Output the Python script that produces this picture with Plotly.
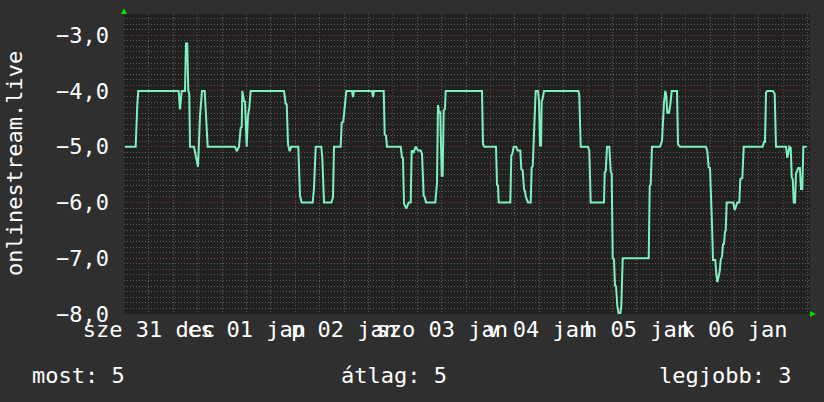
import pandas as pd
import plotly.graph_objects as go

# hours since 2014-12-31 00:00 and values
hours = [6.12, 8.75, 9.15, 9.39, 19.33, 19.65, 20.07, 20.88, 21.12, 21.44, 21.69, 21.93, 22.11,
         23.09, 23.58, 24.07, 24.57, 25.06, 25.72, 26.04, 26.46, 33.17, 33.59, 34.16, 34.57,
         34.82, 34.97, 35.38, 35.63, 36.05, 36.37, 36.69, 37.03, 45.22, 45.64, 45.89, 46.21,
         46.62, 47.02, 48.74, 49.16, 49.57, 52.28, 52.60, 53.02, 54.39, 54.64, 55.06, 56.85,
         57.27, 57.52, 59.16, 59.41, 59.80, 60.15, 60.54, 61.94, 62.19, 62.43, 66.86, 67.11,
         67.35, 69.74, 69.98, 70.30, 70.55, 73.92, 74.24, 74.48, 74.73, 75.30, 75.88, 76.38,
         76.62, 77.11, 77.61, 78.17, 78.84, 79.16, 79.57, 79.82, 80.14, 82.43, 82.67, 82.84,
         83.09, 83.34, 83.65, 84.00, 84.24, 84.49, 84.81, 84.98, 93.91, 94.15, 94.47, 97.35,
         97.60, 97.84, 98.02, 100.87, 101.11, 101.36, 101.70, 102.27, 102.69, 103.33, 103.57,
         103.92, 104.24, 104.48, 104.73, 105.22, 105.88, 106.13, 106.38, 106.70, 106.87, 107.11,
         107.68, 107.93, 108.17, 108.42, 108.59, 108.83, 109.16, 117.59, 117.83, 118.18, 119.97,
         120.29, 120.64, 123.91, 124.08, 124.33, 124.65, 125.21, 125.56, 125.80, 126.05, 126.37,
         126.61, 126.86, 127.18, 127.52, 127.92, 128.16, 128.51, 134.90, 135.15, 135.39, 135.71,
         137.68, 138.17, 138.42, 138.66, 138.98, 139.23, 139.47, 139.89, 140.21, 140.56, 141.86,
         142.10, 142.60, 148.99, 149.31, 149.65, 149.97, 150.29, 150.47, 150.71, 151.28, 151.52,
         151.77, 152.02, 152.36, 152.60, 152.92, 153.17, 153.42, 153.66, 153.84, 154.08, 155.70,
         156.05, 156.37, 156.69, 157.18, 157.42, 157.92, 158.26, 162.93, 163.25, 163.50, 163.74,
         164.06, 165.39, 165.88, 166.20, 168.66, 168.98, 169.23, 169.47, 169.82, 170.07, 170.31,
         170.56, 170.87, 171.12, 171.36, 171.68, 172.08, 172.35, 172.67, 172.92, 173.75]
values = [-5.0, -5.0, -4.25, -4.0, -4.0, -4.33, -4.0, -4.0, -3.15, -3.15, -4.0, -4.05, -5.0,
          -5.0, -5.18, -5.36, -4.45, -4.0, -4.0, -4.45, -5.0, -5.0, -5.08, -5.0, -4.66,
          -4.65, -4.0, -4.18, -4.19, -5.0, -4.44, -4.3, -4.0, -4.0, -4.23, -4.24, -4.96,
          -5.08, -5.0, -5.0, -5.88, -6.0, -6.0, -5.74, -5.0, -5.0, -5.19, -6.0, -6.0,
          -5.91, -5.0, -5.0, -4.57, -4.55, -4.33, -4.0, -4.0, -4.11, -4.0, -4.0, -4.11,
          -4.0, -4.0, -4.78, -4.8, -5.0, -5.0, -5.19, -5.2, -6.02, -6.11, -6.0, -6.0,
          -5.07, -5.1, -5.0, -5.07, -5.07, -5.13, -5.88, -5.9, -6.0, -6.0, -5.67, -5.65,
          -4.25, -4.39, -4.37, -5.52, -5.52, -4.35, -4.32, -4.0, -4.0, -4.95, -5.0, -5.0,
          -5.68, -5.7, -6.0, -6.0, -5.16, -5.13, -5.0, -5.0, -5.07, -5.07, -5.4,
          -5.43, -5.76, -5.8, -5.91, -6.0, -6.0, -5.37, -5.35, -4.66, -4.65, -4.0,
          -4.0, -4.18, -4.98, -4.98, -4.18, -4.14, -4.0, -4.0, -4.07, -5.0, -5.0,
          -5.07, -6.0, -6.0, -5.46, -5.44, -5.0, -5.0, -5.45, -5.48, -7.0, -7.02,
          -7.49, -7.5, -7.85, -8.0, -8.0, -7.85, -7.0, -7.0, -5.7, -5.68, -5.0,
          -5.0, -4.9, -4.42, -4.21, -4.0, -4.09, -4.39, -4.39, -4.25, -4.0, -4.0,
          -4.96, -5.0, -5.0, -5.08, -5.37, -5.38, -6.38, -6.4, -7.03, -7.03, -7.28,
          -7.43, -7.35, -7.23, -7.03, -6.97, -6.75, -6.74, -6.52, -6.5, -6.0, -6.0,
          -6.14, -6.05, -6.0, -6.0, -5.58, -5.56, -5.0, -5.0, -4.91, -4.91, -4.03,
          -4.0, -4.0, -4.05, -5.0, -5.0, -5.2, -5.12, -5.0, -5.02, -5.55, -5.58,
          -6.0, -6.0, -5.48, -5.44, -5.38, -5.38, -5.76, -5.76, -5.0, -5.0]

tick_hours = [12, 36, 60, 84, 108, 132, 156]
tick_labels = ["sze 31 dec", "cs 01 jan", "p 02 jan", "szo 03 jan", "v 04 jan", "h 05 jan", "k 06 jan"]
y_ticks = [-8, -7, -6, -5, -4, -3]
axis_title = "onlinestream.live"
legend_items = ["most: 5", "átlag: 5", "legjobb: 3"]

base = pd.Timestamp("2014-12-31 00:00")
x = base + pd.to_timedelta(hours, unit="h")
tick_x = base + pd.to_timedelta(tick_hours, unit="h")
x_range = [str(base + pd.Timedelta(hours=5.88)), str(base + pd.Timedelta(hours=174.56))]

FONT = "DejaVu Sans Mono"
FS = 22
W, H = 824, 402
L, R, T, B = 124, 14, 14, 88
pw, ph = W - L - R, H - T - B

def px(xp):
    return (xp - L) / pw

def py(yp):
    return (T + ph - yp) / ph

fig = go.Figure()
fig.add_trace(go.Scatter(x=x, y=values, mode="lines",
                         line=dict(color="#7ff0c0", width=2), showlegend=False,
                         hoverinfo="skip"))
fig.add_trace(go.Scatter(x=[], y=[], xaxis="x2", showlegend=False))

MINOR_C = "#5c5c5c"
MAJOR_C = "#7a3c3c"
DASH = "1px,2px"

fig.update_layout(
    width=W, height=H,
    margin=dict(l=L, r=R, t=T, b=B, autoexpand=False),
    paper_bgcolor="#2f2f2f",
    plot_bgcolor="#212121",
    separators=", ",
    font=dict(family=FONT, size=FS, color="#ffffff"),
    xaxis=dict(type="date", range=x_range, tickmode="array", tickvals=tick_x,
               ticktext=tick_labels, tickangle=0, showgrid=False, zeroline=False,
               ticks="", ticklabelstandoff=0, showline=False, automargin=False,
               tickfont=dict(family=FONT, size=FS, color="#ffffff")),
    xaxis2=dict(type="date", range=x_range, overlaying="x", side="bottom",
                showticklabels=False, ticks="", dtick=86400000, automargin=False,
                tick0="2014-12-31 00:00", showgrid=True, gridcolor=MAJOR_C,
                griddash=DASH, gridwidth=1, zeroline=False,
                minor=dict(dtick=21600000, tick0="2014-12-31 00:00", showgrid=True,
                           gridcolor=MINOR_C, griddash=DASH, gridwidth=1)),
    yaxis=dict(range=[-8, -2.62], tickmode="array", tickvals=y_ticks, tickformat=".1f",
               showgrid=True, gridcolor=MAJOR_C, griddash=DASH, gridwidth=1,
               zeroline=False, ticks="", ticklabelstandoff=14, automargin=False,
               minor=dict(dtick=0.1, tick0=0, showgrid=True, gridcolor=MINOR_C,
                          griddash=DASH, gridwidth=1),
               tickfont=dict(family=FONT, size=FS, color="#ffffff")),
    showlegend=False,
)

ann = []
ann.append(dict(text=axis_title, xref="paper", yref="paper", x=px(14), y=0.5,
                xanchor="center", yanchor="middle", textangle=-90, showarrow=False,
                font=dict(family=FONT, size=FS, color="#ffffff")))
ann.append(dict(text=legend_items[0], xref="paper", yref="paper", x=px(30), y=py(375),
                xanchor="left", yanchor="middle", showarrow=False,
                font=dict(family=FONT, size=FS, color="#ffffff")))
ann.append(dict(text=legend_items[1], xref="paper", yref="paper", x=px(339), y=py(375),
                xanchor="left", yanchor="middle", showarrow=False,
                font=dict(family=FONT, size=FS, color="#ffffff")))
ann.append(dict(text=legend_items[2], xref="paper", yref="paper", x=px(793), y=py(375),
                xanchor="right", yanchor="middle", showarrow=False,
                font=dict(family=FONT, size=FS, color="#ffffff")))
fig.update_layout(annotations=ann)

# axis arrows
fig.add_shape(type="path", xref="paper", yref="paper",
              path=f"M {px(121)} {py(14)} L {px(127)} {py(14)} L {px(124)} {py(8)} Z",
              fillcolor="#00dd00", line=dict(width=0))
fig.add_shape(type="path", xref="paper", yref="paper",
              path=f"M {px(810)} {py(311)} L {px(810)} {py(317)} L {px(816)} {py(314)} Z",
              fillcolor="#00dd00", line=dict(width=0))

fig.write_html("out.html", config={"displayModeBar": False},
               post_script="document.body.style.margin='0';document.body.style.background='#2f2f2f';")
